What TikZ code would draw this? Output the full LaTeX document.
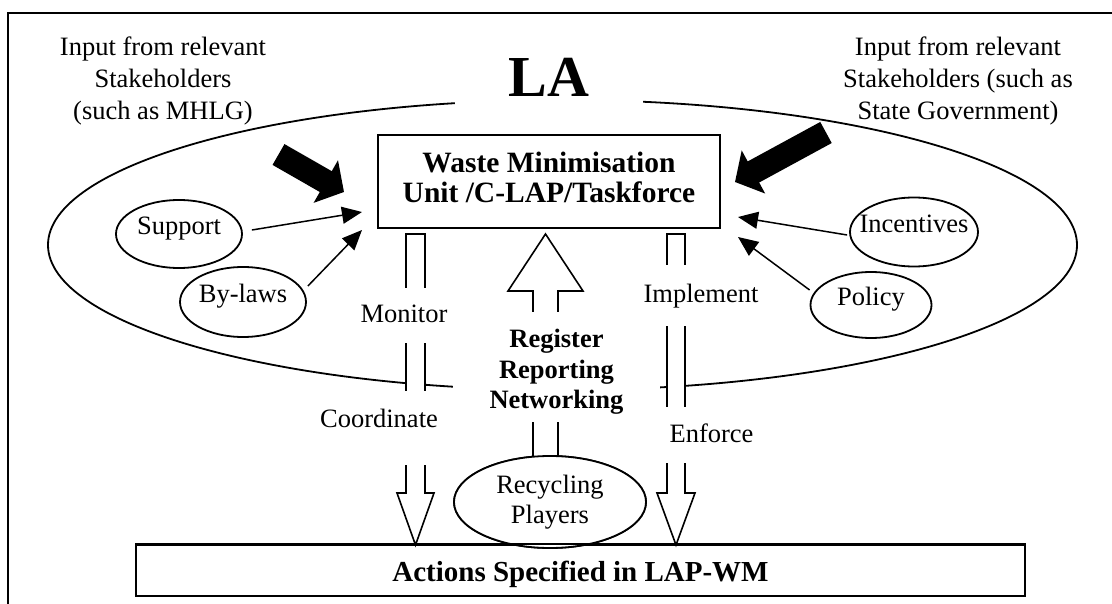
\documentclass[tikz,border=0pt]{standalone}
\usepackage{fontspec}
\setmainfont{Liberation Serif}
\usetikzlibrary{arrows.meta,shapes.geometric,calc}

% type sizes (1 unit = 1pt)
\newcommand\fsN{\fontsize{26.5pt}{32pt}\selectfont}
\newcommand\fsP{\fontsize{26.5pt}{30pt}\selectfont}
\newcommand\fsBox{\fontsize{29.5pt}{30pt}\selectfont\bfseries}
\newcommand\fsReg{\fontsize{26.5pt}{30.5pt}\selectfont\bfseries}
\newcommand\fsAct{\fontsize{29pt}{30pt}\selectfont\bfseries}
\newcommand\fsLA{\fontsize{58pt}{60pt}\selectfont\bfseries}

\begin{document}
\begin{tikzpicture}[x=1pt,y=-1pt,
  lbl/.style={font=\fsN, fill=white, inner ysep=0pt, inner xsep=4pt, anchor=base},
  oval/.style={draw, ellipse, line width=1.8pt, fill=white, inner sep=0pt,
               font=\fsN, text height=18pt, text depth=16pt},
  thinarr/.style={line width=1.5pt, -{Triangle[length=20pt,width=17pt]}},
  bigarrow/.style={line width=24pt, -{Triangle[length=21pt,width=48pt]}},
  hollow/.style={draw, line width=1.6pt, fill=white, line join=miter},
  boxed/.style={draw, line width=2pt, fill=white, inner sep=0pt}]

\useasboundingbox (0,0) rectangle (1112,604);

% page frame
\draw[line width=2.2pt] (8,604) -- (8,13) -- (1112,13);

% the local authority
\draw[line width=1.8pt] (562.5,245) ellipse [x radius=514.5pt, y radius=145pt];
\node[font=\fsLA, fill=white, inner sep=0pt, anchor=base, text height=41pt,
      text depth=14pt, minimum width=188pt] (la) at (549,97) {LA};

% stakeholder inputs
\node[font=\fsN, align=center, anchor=north, inner sep=0pt] (stkL) at (163,37)
  {Input from relevant\\Stakeholders\\(such as MHLG)};
\node[font=\fsN, align=center, anchor=north, inner sep=0pt] (stkR) at (958,37)
  {Input from relevant\\Stakeholders (such as\\State Government)};

% central unit
\node[boxed, font=\fsBox, align=center, minimum width=342pt, minimum height=93pt]
  (wmu) at (549,181.5)
  {Waste Minimisation\\Unit /C-LAP/Taskforce\rule[-9pt]{0pt}{0pt}};

% instruments
\node[oval, minimum width=126pt, minimum height=68pt] (sup) at (179,234) {Support};
\node[oval, minimum width=126pt, minimum height=70pt] (byl) at (243,302) {By-laws};
\node[oval, minimum width=128pt, minimum height=69pt] (inc) at (914,232) {\makebox[0pt]{Incentives}};
\node[oval, minimum width=121pt, minimum height=66pt] (pol) at (871,305) {Policy};

\draw[thinarr] ([shift={(9,-4)}]sup.east) -- ([shift={(-15,30.5)}]wmu.west);
\draw[thinarr] ([shift={(1,-16)}]byl.east) -- ([shift={(-15,48.5)}]wmu.west);
\draw[thinarr] ([shift={(-2,3)}]inc.west) -- ([shift={(17,35.5)}]wmu.east);
\draw[thinarr] ([shift={(0,-15)}]pol.west) -- ([shift={(17,55.5)}]wmu.east);

% heavy input arrows
\coordinate (inL) at (278.5,154.5);
\coordinate (inR) at (826,132.5);
\draw[bigarrow] (inL) -- ([shift={(-33,10.5)}]wmu.west);
\draw[bigarrow] (inR) -- ([shift={(14,0.5)}]wmu.east);

% actions box and recycling players
\node[oval, font=\fsP, align=center, minimum width=192pt, minimum height=92pt,
      text height=, text depth=] (rec) at (550,502) {Recycling\\Players};
\node[draw, line width=2pt, inner sep=0pt, font=\fsAct, minimum width=889pt,
      minimum height=51pt, text height=24pt, text depth=2pt] (act) at (580.5,570.5)
  {Actions Specified in LAP-WM};

% hollow flow arrows
\coordinate (mx) at (415.5,0);
\coordinate (ix) at (676,0);
\coordinate (ux) at (545.5,0);
\coordinate (mtop) at (wmu.south -| mx);
\coordinate (itop) at (wmu.south -| ix);
\coordinate (utop) at (wmu.south -| ux);

\draw[hollow] ([shift={(-9.5,5)}]mtop) -- ++(19,0) -- ++(0,259) -- ++(9,0)
  -- ++(-18.5,52) -- ++(-18.5,-52) -- ++(9,0) -- cycle;
\draw[hollow] ([shift={(-9,5)}]itop) -- ++(18,0) -- ++(0,259) -- ++(10,0)
  -- ++(-19,52) -- ++(-19,-52) -- ++(10,0) -- cycle;
\draw[hollow] ([shift={(0,5)}]utop) -- ++(37.5,57) -- ++(-25,0) -- ++(0,170)
  -- ++(-25,0) -- ++(0,-170) -- ++(-25,0) -- cycle;

% redraw the recycling oval over the shaft end
\node[oval, font=\fsP, align=center, minimum width=192pt, minimum height=92pt,
      text height=, text depth=] at (rec.center) {Recycling\\Players};
\draw[line width=2pt] (act.north west) -- (act.north east);

% flow labels
\node[lbl, text height=35pt, text depth=20pt] (mon) at (404,323) {Monitor};
\node[lbl, text height=36pt, text depth=38pt] (coo) at (379,427) {Coordinate};
\node[lbl, text height=38pt, text depth=23pt] (imp) at (701,303) {Implement};
\node[lbl, text height=35pt, text depth=21pt, inner xsep=6pt] (enf) at (711.5,442) {Enforce};

\fill[white] (453,312) rectangle (660,422);
\node[font=\fsReg, align=center, anchor=north, inner sep=0pt] (reg) at (556.5,329)
  {Register\\Reporting\\Networking};

\end{tikzpicture}
\end{document}
